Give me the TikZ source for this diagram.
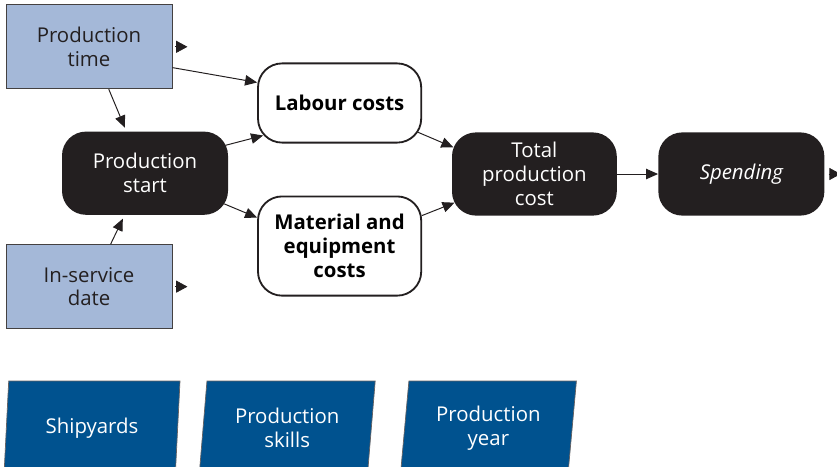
\documentclass[tikz,border=0pt]{standalone}
\usepackage{fontspec}
\setmainfont{Open Sans}
\usetikzlibrary{arrows.meta, positioning, shapes.geometric, calc}
\definecolor{InputBlue}{RGB}{164, 184, 216}
\definecolor{DeepBlue}{RGB}{0, 82, 143}
\definecolor{InkBlack}{RGB}{35, 31, 32}

\begin{document}
\begin{tikzpicture}[
            node distance=0.5cm,
            font=\fontsize{14.5}{17}\selectfont,
            inbox/.style={rectangle, draw=InkBlack!85, fill=InputBlue, line width=0.6pt,
                        minimum width=4.15cm, minimum height=2.1cm, align=center, text=InkBlack},
            dark/.style={rectangle, rounded corners=0.6cm, fill=InkBlack, text=white,
                        minimum width=4.15cm, minimum height=2.08cm, align=center},
            cost/.style={rectangle, rounded corners=0.6cm, draw=InkBlack, line width=1.3pt, fill=white,
                        minimum width=4.08cm, align=center, font=\fontsize{14.5}{17}\selectfont\bfseries},
            factor/.style={trapezium, trapezium left angle=81, trapezium right angle=99,
                        trapezium stretches body, fill=DeepBlue, draw=InkBlack!70, line width=0.5pt,
                        text=white, minimum width=4.4cm, minimum height=2.35cm, align=center},
            arrow/.style={-{Triangle[length=0.3cm, width=0.26cm]}, line width=0.7pt, InkBlack},
            stub/.style={-{Triangle[length=0.28cm, width=0.3cm]}, line width=0.5pt, InkBlack}
        ]
            \useasboundingbox (0,0) rectangle (20.925,-11.65);

            \node[inbox] (ptime) at (2.225,-1.17) {Production\\time};
            \node[inbox, below=3.875cm of ptime] (isdate) {In-service\\date};
            \node[dark] (pstart) at (3.625,-4.33) {Production\\start};
            \node[cost, minimum height=1.98cm] (labour) at (8.49,-2.575) {Labour costs};
            \node[cost, minimum height=2.48cm, below=1.3cm of labour] (material) {Material and\\equipment\\costs};
            \node[dark, minimum width=4.12cm] (total) at (13.36,-4.35) {Total\\production\\cost};
            \node[dark, right=1.025cm of total] (spend) {\itshape Spending};

            \node[factor] (yards) at (2.3,-10.7) {Shipyards};
            \node[factor] (skills) at (7.18,-10.7) {Production\\skills};
            \node[factor] (pyear) at (12.21,-10.7) {Production\\year};

            % loose ends
            \coordinate[right=0.075cm of ptime] (ptimeA);
            \coordinate[right=0.375cm of ptime] (ptimeB);
            \coordinate[right=0.075cm of isdate] (isdateA);
            \coordinate[right=0.375cm of isdate] (isdateB);
            \coordinate[right=0.1cm of spend] (spendA);
            \coordinate[right=0.4cm of spend] (spendB);

            \draw[arrow] (ptime.-14) -- (labour.166);
            \draw[arrow, shorten >=0.1cm] (ptime.-65) -- (pstart.114);
            \draw[arrow, shorten >=0.1cm] (isdate.63) -- (pstart.-116);
            \draw[arrow] ($(pstart.north east)+(-0.07,-0.35)$) -- ($(labour.south west)+(0.15,0.2)$);
            \draw[arrow] ($(pstart.south east)+(-0.1,0.28)$) -- (material.161);
            \draw[arrow] ($(labour.south east)+(-0.1,0.28)$) -- ($(total.north west)+(0.04,-0.38)$);
            \draw[arrow] ($(material.north east)+(0,-0.5)$) -- ($(total.south west)+(0.07,0.33)$);
            \draw[arrow] (total) -- (spend);
            \draw[stub] (ptimeA) -- (ptimeB);
            \draw[stub] (isdateA) -- (isdateB);
            \draw[stub] (spendA) -- (spendB);
        \end{tikzpicture}
\end{document}
